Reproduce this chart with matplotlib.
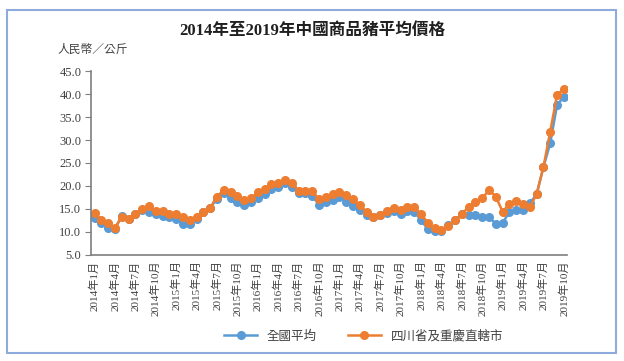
import matplotlib.pyplot as plt
from matplotlib.patches import Rectangle

plt.rcParams['font.family'] = ['Liberation Serif', 'Noto Sans CJK TC']

# monthly labels 2014-01 .. 2019-10
months = [f'{y}年{m}月' for y in range(2014, 2020) for m in range(1, 13)][:70]

national = [13.0, 12.0, 10.9, 10.6, 13.5, 12.9, 13.8, 14.7, 14.4, 13.8,
            13.5, 13.3, 12.8, 11.7, 11.7, 12.8, 14.3, 15.3, 17.1, 18.4,
            17.3, 16.5, 15.9, 16.5, 17.3, 18.2, 19.3, 19.8, 20.6, 19.8,
            18.4, 18.4, 17.9, 15.9, 16.5, 17.0, 17.5, 16.6, 15.7, 14.8,
            13.7, 13.3, 13.7, 14.1, 14.6, 14.0, 14.6, 14.4, 12.6, 10.6,
            10.2, 10.1, 11.5, 12.5, 13.9, 13.7, 13.7, 13.2, 13.3, 11.7,
            11.9, 14.4, 14.8, 14.8, 16.2, 18.2, 24.1, 29.3, 37.6, 39.4]

sichuan = [14.2, 12.6, 11.9, 10.9, 13.2, 12.9, 13.9, 15.0, 15.6, 14.6,
           14.6, 14.0, 13.9, 13.2, 12.6, 13.3, 14.3, 15.2, 17.7, 19.1,
           18.6, 17.8, 17.0, 17.3, 18.6, 19.3, 20.4, 20.6, 21.2, 20.6,
           19.0, 19.0, 18.8, 17.2, 17.5, 18.2, 18.6, 18.0, 17.1, 15.9,
           14.3, 13.3, 13.7, 14.6, 15.3, 14.8, 15.5, 15.5, 13.9, 12.0,
           10.8, 10.4, 11.3, 12.5, 13.9, 15.4, 16.4, 17.3, 19.1, 17.7,
           14.4, 16.1, 16.8, 16.1, 15.4, 18.2, 24.1, 31.8, 39.8, 41.2]

fig = plt.figure(figsize=(6.24, 3.61), dpi=100)
ax = fig.add_axes([0.146, 0.294, 0.763, 0.509])

x = range(len(months))
ax.plot(x, national, color='#5B9BD5', lw=1.8, marker='o', ms=5.5, label='全國平均')
ax.plot(x, sichuan, color='#ED7D31', lw=1.8, marker='o', ms=5.5, label='四川省及重慶直轄市')

ax.set_xlim(-0.5, len(months) - 0.5)
ax.set_ylim(5, 45)
ax.set_yticks(range(5, 46, 5))
ax.set_yticklabels([f'{v:.1f}' for v in range(5, 46, 5)], fontsize=9, color='#404040')
ax.set_xticks(list(x)[::3])
ax.set_xticklabels(months[::3], rotation=90, fontsize=8, color='#404040')
ax.tick_params(axis='x', length=0, pad=4)
ax.tick_params(axis='y', length=4, color='#7f7f7f', pad=3)

for side in ['top', 'right']:
    ax.spines[side].set_visible(False)
for side in ['left', 'bottom']:
    ax.spines[side].set_color('#7f7f7f')
    ax.spines[side].set_linewidth(1.2)

fig.text(0.5, 0.915, '2014年至2019年中國商品豬平均價格', ha='center', va='center',
         fontsize=12, fontweight='bold', color='#202020')
fig.text(0.092, 0.862, '人民幣／公斤', ha='left', va='center', fontsize=8.5, color='#404040')

fig.legend(loc='center', bbox_to_anchor=(0.583, 0.068), ncol=2, frameon=False,
           fontsize=9, handlelength=2.6, columnspacing=2.5, labelcolor='#404040')

fig.patches.append(Rectangle((7 / 624, 8 / 361), 609 / 624, 343 / 361,
                             transform=fig.transFigure, fill=False,
                             edgecolor='#8FAADC', lw=1.5))

fig.savefig('out.png', dpi=100)
